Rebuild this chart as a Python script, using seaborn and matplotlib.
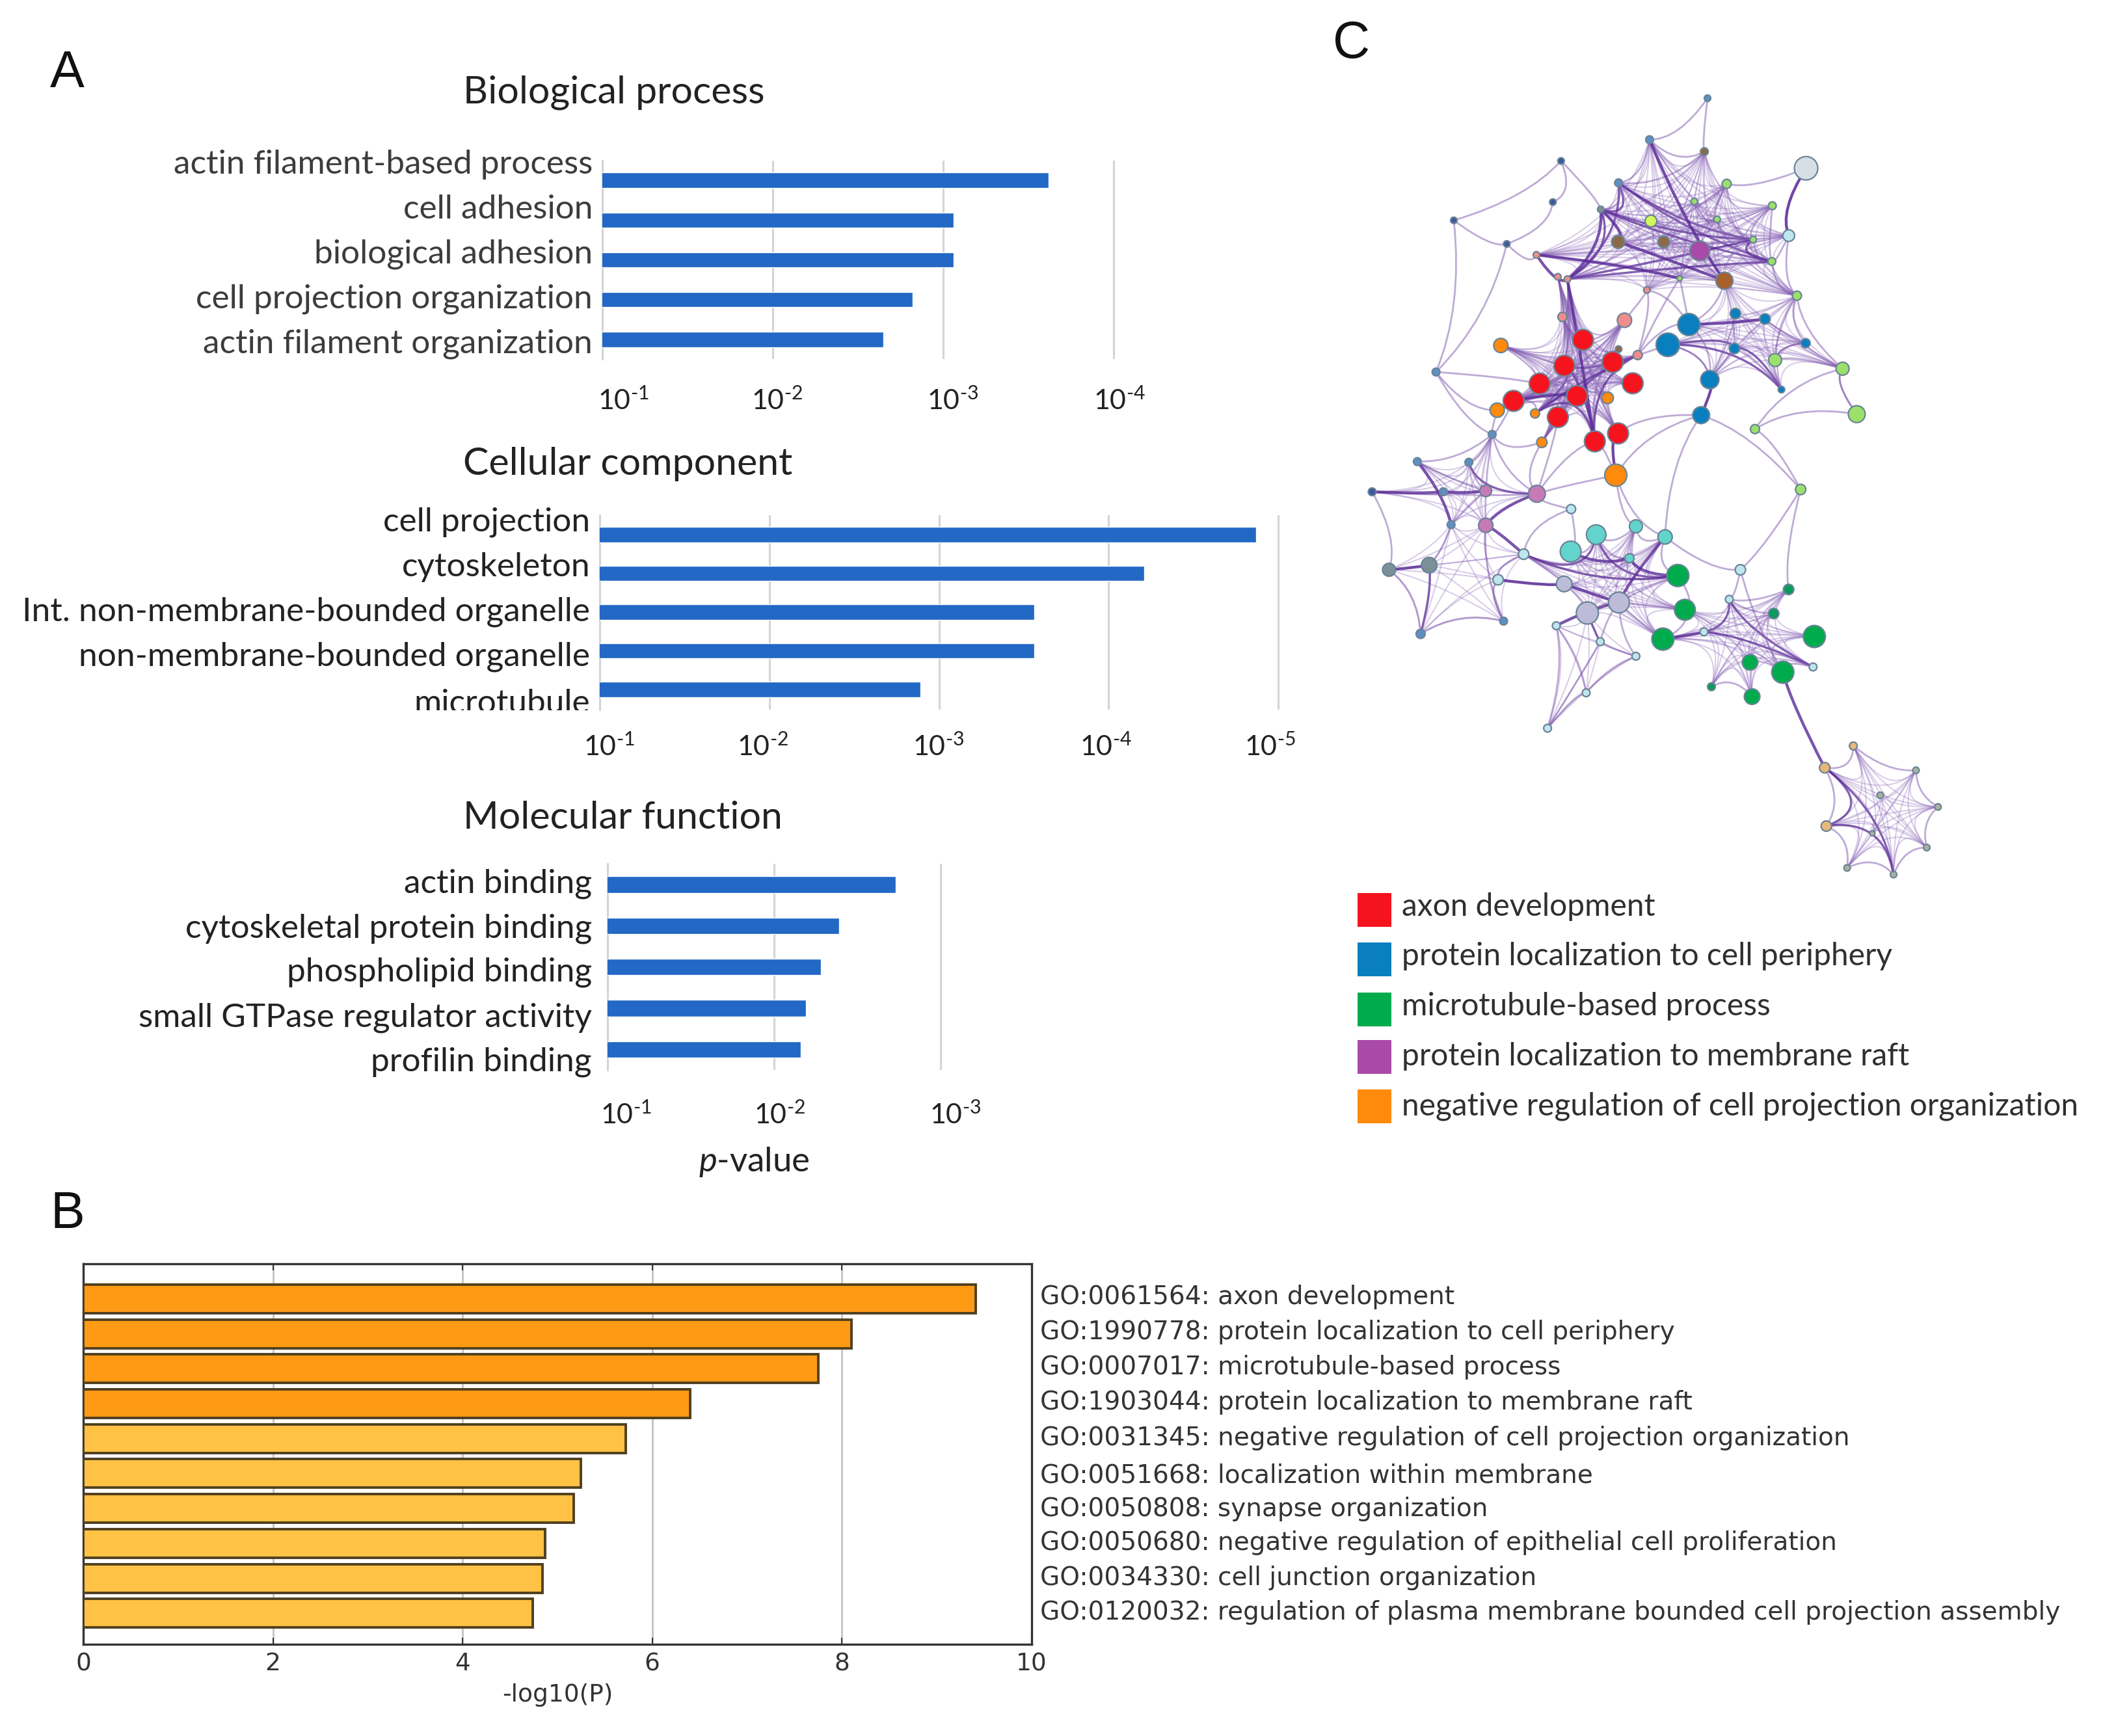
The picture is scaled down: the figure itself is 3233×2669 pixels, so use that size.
import itertools
import numpy as np
import pandas as pd
import matplotlib
matplotlib.use("Agg")
import matplotlib.pyplot as plt
import seaborn as sns
from matplotlib.path import Path
from matplotlib.patches import PathPatch
from matplotlib.transforms import Bbox

W, H = 3233, 2669
BLUE = "#2268c4"
GRID = "#d4d4d4"

# --- panel A: enrichment, exponents of the p-value ---
bp_terms = ["actin filament-based process", "cell adhesion", "biological adhesion",
            "cell projection organization", "actin filament organization"]
bp_exp = [3.62, 3.06, 3.06, 2.82, 2.65]
cc_terms = ["cell projection", "cytoskeleton", "Int. non-membrane-bounded organelle",
            "non-membrane-bounded organelle", "microtubule"]
cc_exp = [4.87, 4.21, 3.56, 3.56, 2.89]
mf_terms = ["actin binding", "cytoskeletal protein binding", "phospholipid binding",
            "small GTPase regulator activity", "profilin binding"]
mf_exp = [2.73, 2.39, 2.28, 2.19, 2.16]

# --- panel B ---
go_ids = ["GO:0061564", "GO:1990778", "GO:0007017", "GO:1903044", "GO:0031345",
          "GO:0051668", "GO:0050808", "GO:0050680", "GO:0034330", "GO:0120032"]
go_names = ["axon development", "protein localization to cell periphery",
            "microtubule-based process", "protein localization to membrane raft",
            "negative regulation of cell projection organization",
            "localization within membrane", "synapse organization",
            "negative regulation of epithelial cell proliferation",
            "cell junction organization",
            "regulation of plasma membrane bounded cell projection assembly"]
go_log_p = [9.41, 8.10, 7.75, 6.40, 5.72, 5.25, 5.17, 4.87, 4.84, 4.74]
go_strong = [1, 1, 1, 1, 0, 0, 0, 0, 0, 0]

# --- panel C legend ---
legend_names = ["axon development", "protein localization to cell periphery",
                "microtubule-based process", "protein localization to membrane raft",
                "negative regulation of cell projection organization"]
legend_colors = ["#f5141e", "#0a7fc0", "#00ab4e", "#a94aa8", "#ff8a0c"]

top_x = [891, 764, 884, 1107, 570, 696, 933, 552, 335, 862, 1033, 657, 767, 912, 1069, 991,
         451, 695, 795, 874, 516, 1032, 584, 563, 928, 830, 758, 1087, 573, 709, 850, 804,
         952, 1017, 1106, 950, 1039, 1187, 738, 696, 618, 577, 683, 727, 523, 605, 466, 563,
         695, 644, 438, 430, 672, 513, 528, 690, 896, 877, 1053, 1218, 995, 296, 419, 255,
         368, 1095, 156, 312, 405, 517, 592, 405, 329, 734, 647, 798, 591, 720, 488, 193,
         281, 432, 963]
top_y = [100, 225, 261, 311, 289, 355, 358, 413, 468, 411, 424, 435, 470, 465, 514, 526,
         539, 533, 533, 560, 572, 592, 645, 638, 650, 643, 678, 695, 759, 769, 782, 843,
         749, 765, 838, 854, 889, 915, 874, 856, 828, 906, 895, 959, 960, 997, 1012, 1061,
         1110, 1134, 845, 1040, 1003, 1050, 1137, 1236, 948, 1055, 978, 1052, 1097, 925, 1113, 1195,
         1197, 1279, 1286, 1286, 1283, 1292, 1338, 1387, 1385, 1390, 1415, 1422, 1466, 1486, 1474, 1521,
         1507, 1551, 1521]
top_r = [5, 6, 6, 18, 5, 6, 7, 5, 5, 5, 6, 5, 9, 5, 9, 5,
         5, 10, 9, 15, 5, 6, 5, 5, 13, 4, 5, 7, 7, 11, 17, 18,
         8, 8, 7, 8, 10, 10, 7, 5, 16, 16, 16, 16, 16, 16, 16, 16,
         16, 16, 11, 11, 9, 7, 8, 17, 14, 13, 5, 13, 7, 6, 6, 6,
         6, 8, 6, 6, 9, 13, 7, 11, 6, 10, 15, 11, 16, 7, 8, 10,
         12, 8, 8]
top_kind = ["steel", "steel", "umber", "pale", "navy", "steel", "lgreen", "navy", "navy", "lgreen",
            "lgreen", "slate", "lime", "lgreen", "iceblue", "lgreen", "navy", "umber", "umber", "purple",
            "salmon", "lgreen", "salmon", "salmon", "brown", "lgreen", "salmon", "lgreen", "salmon", "salmon",
            "blue", "blue", "blue", "blue", "blue", "blue", "lgreen", "lgreen", "salmon", "umber",
            "red", "red", "red", "red", "red", "red", "red", "red", "red", "red",
            "orange", "orange", "orange", "orange", "orange", "orange", "blue", "blue", "blue", "lgreen",
            "lgreen", "steel", "steel", "steel", "steel", "lgreen", "navy", "steel", "pink", "pink",
            "iceblue", "pink", "steel", "teal", "teal", "teal", "teal", "teal", "iceblue", "slate",
            "slate", "iceblue", "iceblue"]

low_x = [830, 556, 847, 688, 612, 954, 1097, 1061, 410, 210, 537, 794, 893, 1159, 643, 729,
         1004, 1083, 1156, 911, 1009, 609, 516, 1253, 1184, 1404, 1318, 1457, 1188, 1299, 1430, 1238, 1350]
low_y = [414, 443, 532, 507, 543, 496, 462, 545, 571, 615, 587, 633, 608, 624, 642, 692,
         713, 747, 729, 797, 831, 818, 940, 1001, 1076, 1085, 1171, 1211, 1277, 1302, 1351, 1421, 1444]
low_r = [17, 12, 16, 16, 17, 6, 8, 8, 6, 7, 6, 17, 6, 17, 6, 6,
         12, 17, 6, 6, 12, 6, 6, 6, 8, 5, 5, 5, 8, 4, 5, 5, 5]
low_kind = ["green", "lavender", "green", "lavender", "lavender", "iceblue", "dgreen", "dgreen", "steel", "steel",
            "iceblue", "green", "iceblue", "green", "iceblue", "iceblue", "green", "green", "iceblue", "dgreen",
            "green", "iceblue", "iceblue", "tan", "tan", "stone", "stone", "stone", "tan", "stone",
            "stone", "stone", "stone"]

kind_colors = {"red": "#f5141e", "blue": "#0a7fc0", "green": "#00ab4e", "purple": "#a94aa8",
               "orange": "#ff8a0c", "salmon": "#f08d8a", "brown": "#a8602c", "umber": "#8c6a48",
               "lgreen": "#9be06b", "pale": "#d6dfe6", "teal": "#62d4cc", "lavender": "#bcbcd9",
               "pink": "#c77ab6", "navy": "#3d5a9e", "steel": "#5e8fc4", "slate": "#7b9096",
               "tan": "#e8b878", "stone": "#aab0a0", "lime": "#d2f75c", "iceblue": "#bfe5ef",
               "dgreen": "#0a9a60"}

# bundles of edges: node numbers and the crossing point they bend towards
bundles = [
    ([2, 5, 6, 9, 10, 11, 12, 13, 14, 15, 17, 18, 19, 21, 24, 25, 26, 22, 20, 27, 1], (2580, 400), 0.35),
    ([40, 41, 42, 43, 44, 45, 46, 47, 48, 49, 50, 51, 52, 53, 54, 28, 29, 38, 39, 22, 23], (2435, 577), 0.85),
    ([30, 31, 32, 33, 34, 35, 36, 37, 56, 58, 27, 24], (2691, 503), 0.6),
    ([63, 64, 66, 67, 68, 69, 71, 72, 62], (2260, 768), 0.75),
    ([79, 80, 78, 81, 91, 92, 71, 72], (2230, 870), 0.3),
    ([73, 74, 75, 76, 77, 83, 84, 86, 87, 78, 85, 94], (2461, 921), 0.7),
    ([93, 97, 98, 104, 105, 87], (2460, 1000), 0.35),
    ([85, 88, 89, 90, 94, 95, 96, 99, 100, 101, 102, 103], (2669, 968), 0.75),
    ([106, 107, 108, 109, 110, 111, 112, 113, 114, 115], (2905, 1245), 0.8),
]
thin_links = [(0, 1), (0, 2), (1, 5), (1, 2), (5, 2), (5, 11), (4, 8), (4, 7), (7, 16), (8, 16), (4, 11),
              (16, 20), (8, 61), (16, 61), (61, 62), (61, 44), (61, 51), (3, 14), (3, 6), (14, 21), (14, 27),
              (21, 27), (27, 37), (37, 59), (59, 60), (34, 37), (60, 65), (65, 82), (65, 57), (57, 48),
              (57, 56), (56, 30), (56, 31), (55, 48), (55, 49), (55, 69), (55, 73), (55, 75), (69, 54), (69, 62),
              (63, 62), (64, 62), (66, 79), (70, 69), (70, 78), (70, 76), (75, 82), (82, 88), (65, 89), (89, 88),
              (57, 55), (57, 75), (79, 92), (80, 92), (91, 92), (91, 71), (81, 84), (93, 105), (97, 105),
              (104, 105), (98, 104), (93, 104), (106, 107), (106, 108), (107, 111), (111, 114), (114, 115),
              (115, 113), (113, 110), (110, 108), (103, 102), (101, 100), (38, 30), (59, 37), (60, 37),
              (22, 28), (23, 28), (22, 41), (29, 42), (29, 40), (26, 29), (26, 38), (28, 40), (38, 42), (38, 25),
              (24, 35), (24, 30), (19, 24), (30, 25), (31, 38), (31, 56), (30, 26), (56, 35), (56, 32), (36, 34),
              (36, 37), (58, 36), (35, 58), (44, 50), (41, 50), (46, 51), (46, 53), (54, 47), (62, 51), (62, 46),
              (62, 54), (69, 47), (69, 49), (71, 62), (64, 68), (68, 63), (72, 80), (72, 68), (78, 81), (81, 91),
              (78, 84), (84, 87), (87, 97), (86, 97), (86, 98), (86, 94), (85, 86), (83, 85), (85, 94), (83, 86),
              (75, 83), (75, 73), (73, 77), (74, 77), (76, 74), (74, 73), (10, 21), (6, 13), (6, 9), (9, 13),
              (13, 15), (10, 15), (15, 21), (27, 34), (34, 36), (27, 36), (33, 34), (98, 97), (88, 90), (100, 82)]
thick_links = [(66, 67), (67, 68), (63, 72), (69, 71), (78, 71), (79, 80), (76, 77), (83, 77), (87, 93),
               (30, 33), (20, 25), (20, 22), (11, 17), (22, 49), (55, 48), (100, 107), (56, 57), (3, 14),
               (81, 84), (75, 86), (84, 86), (46, 45), (94, 95), (87, 86), (17, 24), (1, 24), (11, 22)]

node_x = np.r_[2000 + np.array(top_x) * 0.7015, 2050 + np.array(low_x) * 0.6378]
node_y = np.r_[100 + np.array(top_y) * 0.5102, 700 + np.array(low_y) * 0.4464]
node_r = np.array(top_r + low_r, dtype=float)
node_kind = top_kind + low_kind


def px_axes(fig, left, top, right, bottom):
    return fig.add_axes([left / W, 1 - bottom / H, (right - left) / W, (bottom - top) / H])


def edge_patch(a, b, hub, pull, **kw):
    pa, pb = np.array(a), np.array(b)
    ctrl = (pa + pb) / 2 * (1 - pull) + np.array(hub) * pull
    path = Path([pa, ctrl, pb], [Path.MOVETO, Path.CURVE3, Path.CURVE3])
    return PathPatch(path, facecolor="none", capstyle="round", **kw)


def enrichment(fig, terms, exps, box, xmax, spacing, bar_w, ylim):
    left, top, right, bottom = box
    ax = px_axes(fig, left, top, right + 3, bottom)
    df = pd.DataFrame({"term": terms, "exp": exps})
    sns.barplot(data=df, x="exp", y="term", color=BLUE, width=bar_w, saturation=1, ax=ax, zorder=3)
    ax.set_xlim(1, xmax + 3 / spacing)
    ax.set_ylim(*ylim)
    ax.set_xticks(range(1, xmax + 1))
    ax.grid(axis="x", color=GRID, lw=2.2)
    ax.set_axisbelow(True)
    ax.patch.set_alpha(0)
    ax.set(xlabel="", ylabel="", yticks=[], xticklabels=[])
    ax.tick_params(length=0)
    for s in ["top", "right", "bottom"]:
        ax.spines[s].set_visible(False)
    ax.spines["left"].set_color(GRID)
    ax.spines["left"].set_linewidth(2.2)
    return ax


def main():
    sns.set_theme(style="white")
    plt.rcParams["font.family"] = ["Lato", "DejaVu Sans"]
    plt.rcParams["mathtext.fontset"] = "custom"
    plt.rcParams["mathtext.rm"] = "Lato"
    plt.rcParams["mathtext.it"] = "Lato:italic"

    fig = plt.figure(figsize=(W / 100, H / 100), dpi=100, facecolor="white")

    enrichment(fig, bp_terms, bp_exp, (926, 247, 1712, 552), 4, 262, 0.38, (4.49, -0.49))
    enrichment(fig, cc_terms, cc_exp, (922, 792, 1965, 1091), 5, 261, 0.40, (4.52, -0.504))
    enrichment(fig, mf_terms, mf_exp, (934, 1328, 1446, 1645), 3, 256, 0.40, (4.5, -0.506))

    # panel B
    ax = px_axes(fig, 128, 1943, 1586, 2528)
    df = pd.DataFrame({"go": go_ids, "val": go_log_p,
                       "tone": ["strong" if g else "weak" for g in go_strong]})
    sns.barplot(data=df, x="val", y="go", hue="tone", dodge=False, legend=False, width=0.82,
                palette={"strong": "#ff9a14", "weak": "#ffc244"}, saturation=1,
                edgecolor="#50401f", linewidth=2.8, ax=ax, zorder=3)
    ax.set_xlim(0, 10)
    ax.set_ylim(9.89, -1.006)
    ax.set_yticks([])
    ax.set_ylabel("")
    ax.set_xticks([0, 2, 4, 6, 8, 10])
    ax.grid(axis="x", color="#bdbdbd", lw=1.8)
    ax.set_axisbelow(True)
    for lab in ax.get_xticklabels():
        lab.set_family("DejaVu Sans")
    ax.tick_params(axis="x", labelsize=27, colors="#333333", length=7, width=1.5, direction="in",
                   top=True, bottom=True, pad=9)
    ax.set_xlabel("-log10(P)", family="DejaVu Sans", fontsize=27, color="#333333", labelpad=8)
    for s in ax.spines.values():
        s.set_color("#333333")
        s.set_linewidth(2.4)

    # overlay in picture pixels: network, legend and free labels
    ov = fig.add_axes([0, 0, 1, 1], zorder=5)
    ov.set_xlim(0, W)
    ov.set_ylim(H, 0)
    ov.axis("off")
    ov.patch.set_alpha(0)

    pts = np.c_[node_x, node_y]
    hubs = np.array([b[1] for b in bundles], dtype=float)
    for nodes, hub, pull in bundles:
        strong = set(nodes[1::4])
        for i, j in itertools.combinations(nodes, 2):
            dark = i in strong and j in strong
            ov.add_patch(edge_patch(pts[i], pts[j], hub, pull,
                                    edgecolor="#5a2b97" if dark else "#8a66b8",
                                    linewidth=2.4 if dark else 1.5,
                                    alpha=0.75 if dark else 0.32))

    def link(i, j, **kw):
        mid = (pts[i] + pts[j]) / 2
        dists = np.hypot(*(hubs - mid).T)
        k = np.argmin(dists)
        # links sag only a little towards the nearest crossing
        pull = min(0.28, 32 / dists[k])
        ov.add_patch(edge_patch(pts[i], pts[j], hubs[k], pull, **kw))

    for i, j in thin_links:
        link(i, j, edgecolor="#7f58ad", linewidth=2.0, alpha=0.5)
    for i, j in thick_links:
        link(i, j, edgecolor="#5a2b97", linewidth=3.2, alpha=0.8)

    nodes_df = pd.DataFrame({"x": node_x, "y": node_y, "kind": node_kind})
    sns.scatterplot(data=nodes_df, x="x", y="y", hue="kind", palette=kind_colors, legend=False,
                    s=(node_r * 1.44) ** 2, edgecolor="#6a8496", linewidth=1.6, ax=ov, zorder=4)

    key_y = [1399, 1475, 1552, 1625, 1701]
    key_df = pd.DataFrame({"x": [2113] * 5, "y": key_y, "name": legend_names})
    sns.scatterplot(data=key_df, x="x", y="y", hue="name", palette=dict(zip(legend_names, legend_colors)),
                    marker="s", s=(52 * 0.72) ** 2, linewidth=0, legend=False, ax=ov, zorder=4)
    ov.set(xlabel="", ylabel="")
    ov.set_xlim(0, W)
    ov.set_ylim(H, 0)

    def put(x, y, s, size=37, color="#3c3c3c", ha="right", **kw):
        return ov.text(x, y, s, fontsize=size, color=color, ha=ha, va="center", **kw)

    # panel letters
    for x, y, s in [(77, 113, "A"), (78, 1867, "B"), (2049, 68, "C")]:
        put(x, y, s, size=57, color="#111111", ha="left", family="Liberation Sans")

    # panel titles
    for x, y, s in [(712, 142, "Biological process"), (712, 713, "Cellular component"),
                    (712, 1258, "Molecular function")]:
        put(x, y, s, size=42.5, color="#222222", ha="left")

    # term labels
    for y, s in zip([253, 322, 391, 460, 529], bp_terms):
        put(911, y, s)
    for y, s in zip([803, 872, 941, 1010, 1082], cc_terms):
        t = put(907, y, s, color="#222222")
        if s == "microtubule":
            # the original cuts this label off along the axis end
            t.set_clip_on(True)
            t.set_clip_box(Bbox([[0, H - 1092], [W, H]]))
    for y, s in zip([1359, 1428, 1495, 1565, 1633], mf_terms):
        put(910, y, s, color="#222222")

    # power-of-ten labels sit a little off their gridlines in the original
    for x, e in zip([958, 1195, 1465, 1721], [1, 2, 3, 4]):
        put(x, 616, f"10$^{{\\text{{-}}{e}}}$", size=31, ha="center", color="#222222")
    for x, e in zip([936, 1173, 1443, 1700, 1952], [1, 2, 3, 4, 5]):
        put(x, 1148, f"10$^{{\\text{{-}}{e}}}$", size=31, ha="center", color="#222222")
    for x, e in zip([962, 1199, 1469], [1, 2, 3]):
        put(x, 1714, f"10$^{{\\text{{-}}{e}}}$", size=31, ha="center", color="#222222")
    put(1159, 1787, "$\\it{p}$-value", size=38, ha="center", color="#222222")

    # panel B term labels
    for y, gid, name in zip([1994, 2048, 2102, 2156, 2211, 2269, 2320, 2372, 2426, 2479], go_ids, go_names):
        put(1599, y, f"{gid}: {name}", size=28.1, ha="left", family="DejaVu Sans", color="#333333")

    # panel C legend labels
    for y, name in zip([1394, 1470, 1547, 1624, 1701], legend_names):
        put(2155, y, name, size=34.5, ha="left", color="#2f2f2f")

    fig.savefig("out.png", dpi=100)


if __name__ == "__main__":
    main()
